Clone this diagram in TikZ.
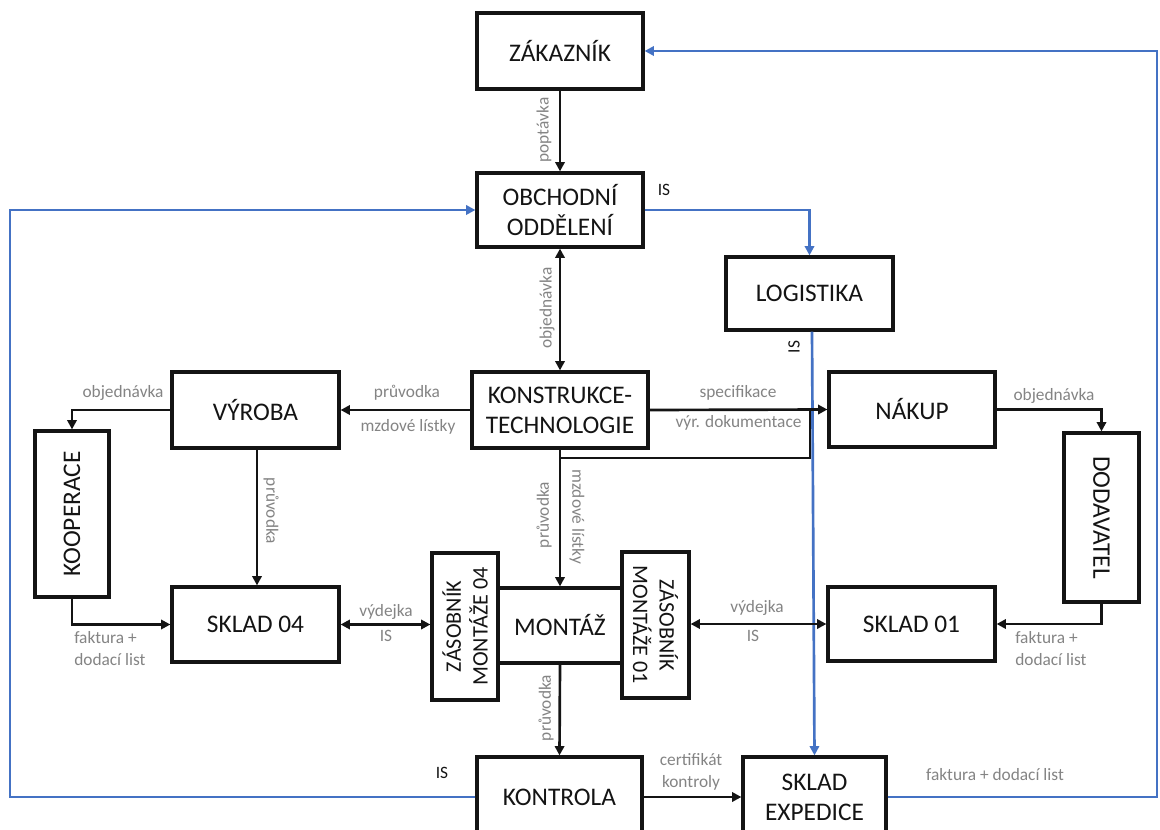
\documentclass[tikz,border=0pt]{standalone}
\usepackage{fontspec}
\setmainfont{Carlito}
\usetikzlibrary{arrows.meta,calc}
\definecolor{isblue}{RGB}{68,114,196}
\definecolor{lblgray}{RGB}{132,132,132}
\definecolor{ink}{RGB}{20,20,20}

\begin{document}
\begin{tikzpicture}[x=0.75pt,y=-0.75pt,
  box/.style={draw=ink, line width=2.4pt, inner sep=0pt, text=ink,
    font=\fontsize{19}{22.5}\selectfont, align=center},
  stockbox/.style={box, font=\fontsize{16.6}{20}\selectfont},
  flow/.style={draw=ink, line width=2pt, -{Triangle[length=7pt,width=7pt]}},
  bothflow/.style={draw=ink, line width=2pt, {Triangle[length=7pt,width=7pt]}-{Triangle[length=7pt,width=7pt]}},
  plain/.style={draw=ink, line width=2pt},
  isflow/.style={draw=isblue, line width=2pt, -{Triangle[length=7pt,width=7pt]}},
  lbl/.style={text=lblgray, inner sep=0pt, font=\fontsize{13}{16.5}\selectfont, align=center},
  islbl/.style={text=ink, inner sep=0pt, font=\fontsize{13}{16.5}\selectfont},
]
\path[use as bounding box, clip] (0,0) rectangle (1160,830);
\fill[white] (0,0) rectangle (1160,830);

% boxes
\node[box, minimum width=166*0.75pt, minimum height=76*0.75pt] (zak) at (560,51) {ZÁKAZNÍK};
\node[box, minimum width=166*0.75pt, minimum height=74*0.75pt] (obch) at (560,210) {OBCHODNÍ\\ODDĚLENÍ};
\node[box, minimum width=167*0.75pt, minimum height=73*0.75pt] (log) at (809.5,293.5) {LOGISTIKA};
\node[box, minimum width=176*0.75pt, minimum height=76*0.75pt] (kon) at (560,410) {KONSTRUKCE-\\TECHNOLOGIE};
\node[box, minimum width=167*0.75pt, minimum height=76*0.75pt] (vyr) at (255.5,410) {VÝROBA};
\node[box, rotate=90, minimum width=166*0.75pt, minimum height=74*0.75pt] (koop) at (72,514) {KOOPERACE};
\node[box, minimum width=167*0.75pt, minimum height=75*0.75pt] (s04) at (255.5,624.5) {SKLAD 04};
\node[stockbox, rotate=90, minimum width=147*0.75pt, minimum height=66*0.75pt] (z04) at (465,626.5) {ZÁSOBNÍK\\MONTÁŽE 04};
\node[box, minimum width=124*0.75pt, minimum height=75*0.75pt] (mont) at (560,625.5) {MONTÁŽ};
\node[stockbox, rotate=-90, minimum width=146*0.75pt, minimum height=67*0.75pt] (z01) at (655.5,625) {ZÁSOBNÍK\\MONTÁŽE 01};
\node[box, minimum width=166*0.75pt, minimum height=75*0.75pt] (nak) at (912,409.5) {NÁKUP};
\node[box, rotate=-90, minimum width=169*0.75pt, minimum height=75*0.75pt] (dod) at (1101.5,517.5) {DODAVATEL};
\node[box, minimum width=167*0.75pt, minimum height=74*0.75pt] (s01) at (911.5,624) {SKLAD 01};
\node[box, minimum width=165*0.75pt, minimum height=80*0.75pt] (kontr) at (559.5,797) {KONTROLA};
\node[box, minimum width=143*0.75pt, minimum height=80*0.75pt] (exp) at (814.5,797) {SKLAD\\EXPEDICE};

% free corner points of the routed lines
\coordinate (rtop) at (1157,51);
\coordinate (ltop) at (10,210);
\coordinate (kbr) at (560,458);
\coordinate (kjoin) at (810,410);

% information-system links (blue)
\draw[isflow] (exp.east) -| (rtop) -- (zak.east);
\draw[isflow] (kontr.west) -| (ltop) -- (obch.west);
\draw[isflow] (obch.east) -| (log.north);
\draw[isflow] ($(log.south)+(2.5,0)$) -- (exp.north);

% material and document flows (black)
\draw[flow] (zak.south) -- (obch.north);
\draw[bothflow] (obch.south) -- (kon.north);
\draw[flow] (kon.west) -- (vyr.east);
\draw[flow] (kon.east) -- (nak.west);
\draw[plain] (kbr) -| (kjoin);
\draw[flow] (kon.south) -- (mont.north);
\draw[flow] (vyr.west) -| (koop.east);
\draw[flow] ($(vyr.south)+(1.5,0)$) -- ($(s04.north)+(1.5,0)$);
\draw[flow] (koop.west) |- (s04.west);
\draw[bothflow] (s04.east) -- (s04.east -| z04.north);
\draw[flow] (mont.south) -- (kontr.north);
\draw[bothflow] (s01.west -| z01.north) -- (s01.west);
\draw[flow] (nak.east) -| (dod.west);
\draw[flow] (dod.east) |- (s01.east);
\draw[flow] (kontr.east) -- (kontr.east -| exp.west);

% labels
\node[lbl, rotate=90] (l1) at (544,130) {poptávka};
\node[lbl, rotate=90] (l2) at (547,308) {objednávka};
\node[lbl] (l3) at (407,393) {průvodka};
\node[lbl] (l4) at (408,427) {mzdové lístky};
\node[lbl] (l5) at (738,393) {specifikace};
\node[lbl] (l6) at (738.5,423) {výr. dokumentace};
\node[lbl, rotate=90] (l7) at (544,515) {průvodka};
\node[lbl, rotate=-90] (l8) at (577,517) {mzdové lístky};
\node[lbl] (l9) at (123,393) {objednávka};
\node[lbl, rotate=-90] (l10) at (271,511) {průvodka};
\node[lbl, anchor=west, align=left] (l11) at (74,649) {faktura +\\dodací list};
\node[lbl] (l12) at (386,612) {výdejka};
\node[lbl] (l13) at (386,636) {IS};
\node[lbl, rotate=90] (l14) at (546,708) {průvodka};
\node[lbl] (l15) at (757,608) {výdejka};
\node[lbl] (l16) at (753,636) {IS};
\node[lbl] (l17) at (1054,396) {objednávka};
\node[lbl, anchor=west, align=left] (l18) at (1015,649) {faktura +\\dodací list};
\node[lbl] (l19) at (691,772) {certifikát\\kontroly};
\node[lbl] (l20) at (995,775) {faktura + dodací list};

\node[islbl] (i1) at (664,190) {IS};
\node[islbl] (i2) at (442,773) {IS};
\node[islbl, rotate=90] (i3) at (794,347) {IS};
\end{tikzpicture}
\end{document}
